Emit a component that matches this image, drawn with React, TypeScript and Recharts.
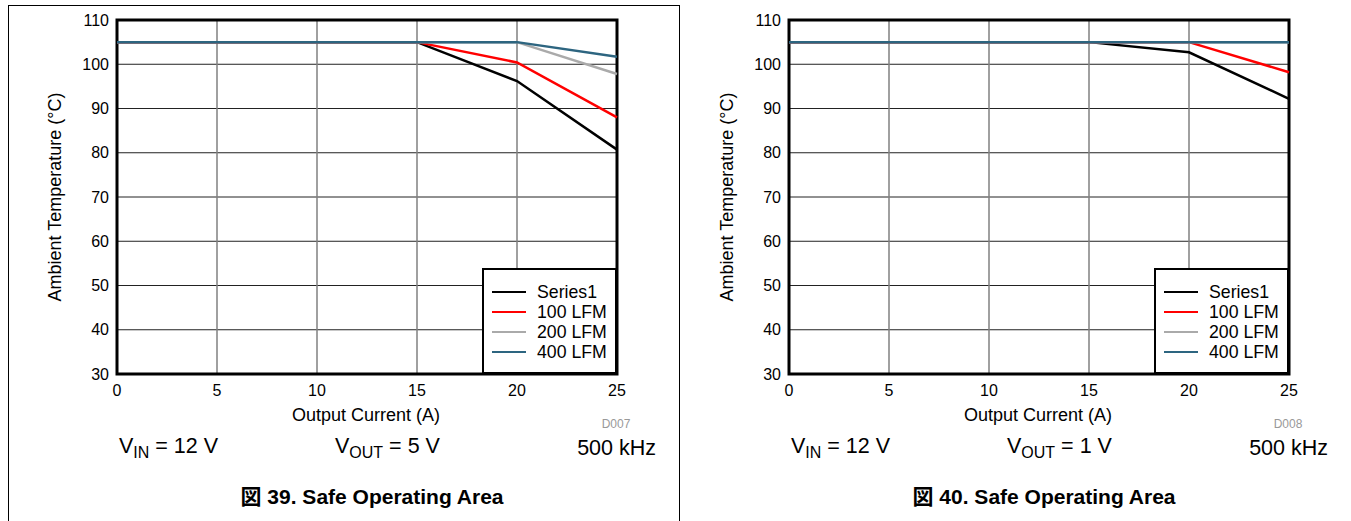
import React from 'react';
import { LineChart, Line, XAxis, YAxis, CartesianGrid, ReferenceArea } from 'recharts';

// output current (A)
const current = [0, 5, 10, 15, 20, 25];
const xTicks = [0, 5, 10, 15, 20, 25];
const yTicks = [30, 40, 50, 60, 70, 80, 90, 100, 110];

const seriesNames = ['Series1', '100 LFM', '200 LFM', '400 LFM'];

// fig 39: VOUT = 5 V
const vout5Series1 = [105, 105, 105, 105, 96.2, 80.7];
const vout5Lfm100 = [105, 105, 105, 105, 100.4, 88];
const vout5Lfm200 = [105, 105, 105, 105, 105, 97.8];
const vout5Lfm400 = [105, 105, 105, 105, 105, 101.7];

// fig 40: VOUT = 1 V
const vout1Series1 = [105, 105, 105, 105, 102.7, 92.2];
const vout1Lfm100 = [105, 105, 105, 105, 105, 98.2];
const vout1Lfm200 = [105, 105, 105, 105, 105, 105];
const vout1Lfm400 = [105, 105, 105, 105, 105, 105];

const colors = ['#000000', '#ff0000', '#aaaaaa', '#2d6580'];
const FONT = '"Liberation Sans", Arial, sans-serif';

const buildRows = (series: number[][]) =>
  current.map((x, i) => ({ x, s0: series[0][i], s1: series[1][i], s2: series[2][i], s3: series[3][i] }));

interface SoaProps {
  left: number;
  series: number[][];
  code: string;
  vout: string;
  fig: string;
}

const SoaChart = ({ left, series, code, vout, fig }: SoaProps) => {
  const rows = buildRows(series);
  return (
    <div style={{ position: 'absolute', left, top: 0, width: 672, height: 521 }}>
      <LineChart width={672} height={440} data={rows} margin={{ top: 20, right: 55, left: 57, bottom: 16 }}>
        <CartesianGrid horizontal vertical={false} stroke="#222" strokeWidth={1} />
        <CartesianGrid horizontal={false} vertical stroke="#808080" strokeWidth={1.5} />
        <XAxis dataKey="x" type="number" domain={[0, 25]} ticks={xTicks} height={50} tickLine={false} axisLine={false}
          tickMargin={5} tick={{ fill: '#000', fontSize: 16, fontFamily: FONT }} interval={0} />
        <YAxis type="number" domain={[30, 110]} ticks={yTicks} width={60} tickLine={false} axisLine={false}
          tick={{ fill: '#000', fontSize: 16, fontFamily: FONT }} interval={0} />
        {seriesNames.map((name, i) => (
          <Line key={name} dataKey={`s${i}`} name={name} type="linear" stroke={colors[i]} strokeWidth={2.5} dot={false} isAnimationActive={false} />
        ))}
        <ReferenceArea x1={0} x2={25} y1={30} y2={110} fill="none" stroke="#000" strokeWidth={3} ifOverflow="visible" />
      </LineChart>

      {/* legend */}
      <div style={{ position: 'absolute', left: 482, top: 268, width: 135, height: 106, boxSizing: 'border-box', border: '2px solid #000', background: '#fff' }}>
        {seriesNames.map((name, i) => (
          <div key={name} style={{ position: 'absolute', left: 8, top: 12 + i * 20, height: 20, display: 'flex', alignItems: 'center', fontSize: 17.7, fontFamily: FONT, whiteSpace: 'nowrap' }}>
            <span style={{ display: 'inline-block', width: 34, height: 0, borderTop: `2.5px solid ${colors[i]}`, marginRight: 11 }} />
            {name}
          </div>
        ))}
      </div>

      <div style={{ position: 'absolute', left: 55, top: 197, transform: 'translate(-50%, -50%) rotate(-90deg)', fontSize: 18, fontFamily: FONT, whiteSpace: 'nowrap' }}>
        Ambient Temperature (°C)
      </div>
      <div style={{ position: 'absolute', left: 366, top: 415, transform: 'translate(-50%, -50%)', fontSize: 18, fontFamily: FONT, whiteSpace: 'nowrap' }}>
        Output Current (A)
      </div>
      <div style={{ position: 'absolute', left: 616, top: 424, transform: 'translate(-50%, -50%)', fontSize: 12, color: '#999', fontFamily: FONT }}>
        {code}
      </div>
      <div style={{ position: 'absolute', left: 119, top: 448, transform: 'translateY(-50%)', fontSize: 21.5, fontFamily: FONT, whiteSpace: 'nowrap' }}>
        V<sub style={{ fontSize: 16 }}>IN</sub> = 12 V
      </div>
      <div style={{ position: 'absolute', left: 335, top: 448, transform: 'translateY(-50%)', fontSize: 21.5, fontFamily: FONT, whiteSpace: 'nowrap' }}>
        V<sub style={{ fontSize: 16 }}>OUT</sub> = {vout}
      </div>
      <div style={{ position: 'absolute', right: 672 - 656, top: 448, transform: 'translateY(-50%)', fontSize: 21.5, fontFamily: FONT, whiteSpace: 'nowrap' }}>
        500 kHz
      </div>
      <div style={{ position: 'absolute', left: 372, top: 495, transform: 'translate(-50%, -50%)', fontSize: 21, fontWeight: 'bold', fontFamily: `${FONT}, "Noto Sans CJK JP"`, whiteSpace: 'nowrap' }}>
        {fig}
      </div>
    </div>
  );
};

export default function App() {
  return (
    <div style={{ position: 'absolute', left: 0, top: 0, width: 1351, height: 521, background: '#fff', overflow: 'hidden', fontFamily: FONT }}>
      <div style={{ position: 'absolute', left: 8, top: 5, width: 672, height: 530, boxSizing: 'border-box', borderTop: '1px solid #000', borderLeft: '1px solid #000', borderRight: '1px solid #000' }} />
      <SoaChart left={0} series={[vout5Series1, vout5Lfm100, vout5Lfm200, vout5Lfm400]} code="D007" vout="5 V" fig="図 39. Safe Operating Area" />
      <SoaChart left={672} series={[vout1Series1, vout1Lfm100, vout1Lfm200, vout1Lfm400]} code="D008" vout="1 V" fig="図 40. Safe Operating Area" />
    </div>
  );
}
